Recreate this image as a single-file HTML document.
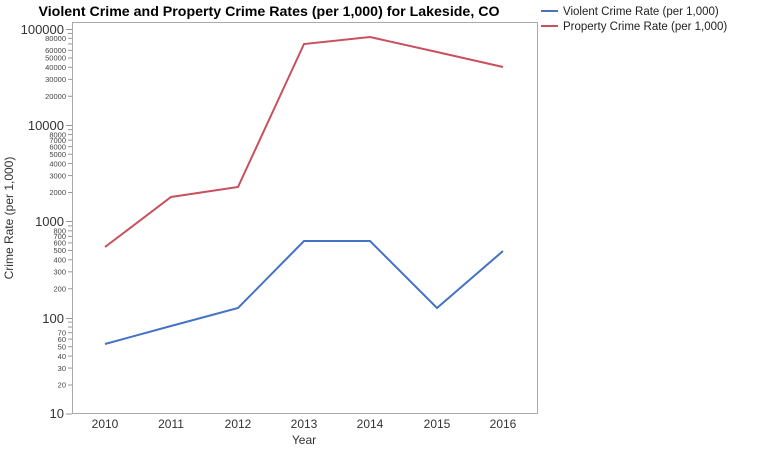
<!DOCTYPE html>
<html><head><style>body{margin:0;background:#fff}svg{display:block;font-family:"Liberation Sans",sans-serif}</style></head><body>
<svg width="764" height="455" xmlns="http://www.w3.org/2000/svg">
<text x="269" y="16" text-anchor="middle" font-size="14.2" font-weight="bold" fill="#000">Violent Crime and Property Crime Rates (per 1,000) for Lakeside, CO</text>
<line x1="541" y1="11" x2="558" y2="11" stroke="#4472c4" stroke-width="2"/>
<text x="563" y="15" font-size="11.5" fill="#222">Violent Crime Rate (per 1,000)</text>
<line x1="541" y1="26" x2="558" y2="26" stroke="#c9505f" stroke-width="2"/>
<text x="563" y="30" font-size="11.5" fill="#222">Property Crime Rate (per 1,000)</text>
<rect x="72.5" y="22.5" width="465" height="391" fill="none" stroke="#aaa"/>
<g stroke="#999" stroke-width="1">
<line x1="66" y1="29.5" x2="72" y2="29.5"/><line x1="66" y1="125.5" x2="72" y2="125.5"/><line x1="66" y1="221.5" x2="72" y2="221.5"/><line x1="66" y1="318.5" x2="72" y2="318.5"/><line x1="66" y1="414" x2="72" y2="414"/>
</g>
<g font-size="13" fill="#333" text-anchor="end">
<text x="64" y="34">100000</text><text x="64" y="130">10000</text><text x="64" y="226">1000</text><text x="64" y="323">100</text><text x="64" y="418">10</text>
</g>
<g font-size="7.5" fill="#444" text-anchor="end" id="minor"></g>
<g stroke="#999" stroke-width="1" id="minorTicks"></g>
<g font-size="12" fill="#333" text-anchor="middle">
<text x="105" y="428">2010</text><text x="171" y="428">2011</text><text x="238" y="428">2012</text><text x="304" y="428">2013</text><text x="370" y="428">2014</text><text x="437" y="428">2015</text><text x="503" y="428">2016</text>
<text x="304" y="444">Year</text>
</g>
<text transform="translate(13,218) rotate(-90)" font-size="12" fill="#333" text-anchor="middle">Crime Rate (per 1,000)</text>
<polyline fill="none" stroke="#4472c4" stroke-width="2" points="105,344 171,326 238,308 304,241 370,241 437,308 503,251"/>
<polyline fill="none" stroke="#c9505f" stroke-width="2" points="105,247 171,197 238,187 304,44 370,37 437,52 503,67"/>
<script>
var t=document.getElementById('minor'),k=document.getElementById('minorTicks'),ns='http://www.w3.org/2000/svg';
for(var d=0;d<4;d++){for(var m=2;m<=9;m++){var y=414-96.25*(d+Math.log10(m));
var l=document.createElementNS(ns,'line');l.setAttribute('x1',68);l.setAttribute('x2',72);l.setAttribute('y1',y);l.setAttribute('y2',y);k.appendChild(l);
var show=(m<=7)||(m==8&&d>=1);if(d==0&&m==8)show=false;
if(m==9)show=false;if(d==3&&(m==8||m==6||m==5||m==4||m==3||m==2))show=true;if(d==3&&m==7)show=false;
if(show){var x=document.createElementNS(ns,'text');x.setAttribute('x',66);x.setAttribute('y',y+2.7);x.textContent=String(m*Math.pow(10,d+1));t.appendChild(x);}}}
</script>
</svg>
</body></html>
